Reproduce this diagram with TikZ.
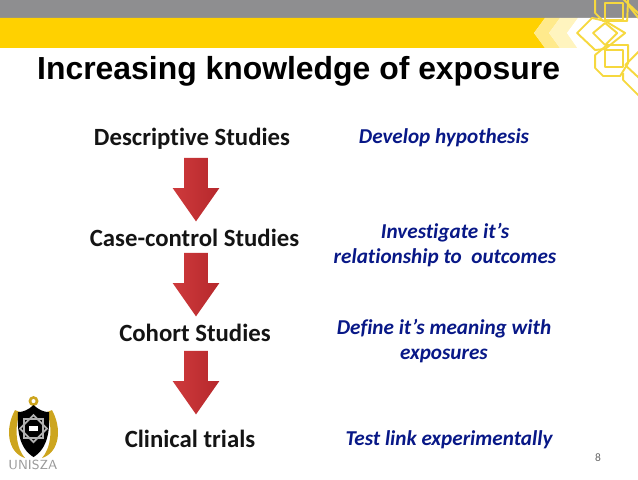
\documentclass[tikz,border=0pt]{standalone}
\usepackage{fontspec}
\setmainfont[Ligatures=NoCommon]{Carlito}
\newfontfamily\titlefont{Liberation Sans}
\usetikzlibrary{shapes.arrows}
\definecolor{bandgray}{RGB}{142,142,144}
\definecolor{bandyellow}{RGB}{255,209,0}
\definecolor{hypblue}{RGB}{8,24,135}
\definecolor{arrowred}{RGB}{182,40,44}
\definecolor{arrowdark}{RGB}{206,58,60}
\definecolor{logogold}{RGB}{205,165,30}
\definecolor{framegold}{RGB}{246,216,62}
\tikzset{
  study/.style={font=\fontsize{14.1pt}{17pt}\selectfont\bfseries, text=black!92},
  aim/.style={font=\fontsize{12.05pt}{14.2pt}\selectfont\bfseries\itshape, text=hypblue, align=center},
  downarrow/.style={shape=single arrow, shape border rotate=270, inner sep=0pt, anchor=tip,
    text width=0.46cm, minimum height=1.27cm, single arrow head extend=0.23cm,
    single arrow tip angle=70, left color=arrowdark, right color=arrowred, draw=none},
  frame/.style={draw=framegold, line width=1.1pt, line join=round},
  px/.style={shift={(0cm,9.58cm)}, x=0.02cm, y=-0.02cm}
}
\begin{document}
\begin{tikzpicture}
    \useasboundingbox (0,0) rectangle (12.76,9.58);
    % Bandas superiores
    \fill[bandgray] (0,9.58) rectangle (12.76,9.22);
    \fill[bandyellow] (0,9.22) -- (10.9,9.22) -- (10.68,8.92) -- (10.9,8.62) -- (0,8.62) -- cycle;
    \fill[bandyellow!45!white] (10.9,9.22) -- (11.2,9.22) -- (10.98,8.92) -- (11.2,8.62) -- (10.9,8.62) -- (10.68,8.92) -- cycle;
    \fill[bandyellow!25!white] (11.2,9.22) -- (11.56,9.22) -- (11.34,8.92) -- (11.56,8.62) -- (11.2,8.62) -- (10.98,8.92) -- cycle;
    \fill[white] (11.56,9.22) -- (12.76,9.22) -- (12.76,8.6) -- (11.56,8.6) -- (11.34,8.92) -- cycle;

    % Marcos de la esquina
    \begin{scope}[px]
      \clip (560,0) rectangle (638,110);
      \draw[frame] (605,3) rectangle (623,20);
      \draw[frame] (595,-2) -- (595,13) -- (603,21) -- (627,21) -- (628,-2);
      \draw[frame] (623,-1) -- (640,15);
      \draw[frame] (628,5) -- (640,20);
      \draw[frame] (577,33) -- (592,18) -- (605,21) -- (625,33) -- (605,49) -- (595,50) -- cycle;
      \draw[frame] (593,33) -- (605,23) -- (617,33) -- (605,45) -- cycle;
      \draw[frame] (605,50) rectangle (623,67);
      \draw[frame] (607,45) -- (628,45) -- (628,63) -- (620,76) -- (603,76) -- (595,68) -- (595,55) -- cycle;
      \draw[frame] (625,65) -- (640,50);
      \draw[frame] (625,65) -- (640,79);
      \draw[frame] (623,73) -- (623,80) -- (640,97);
    \end{scope}

    % Titulo
    \node[font=\titlefont\fontsize{18.15pt}{21pt}\selectfont\bfseries, anchor=west] (title) at (0.62,8.16) {Increasing knowledge of exposure};

    % Estudios
    \node[study] (descriptive) at (3.84,6.8) {Descriptive Studies};
    \node[study] (casecontrol) at (3.89,4.82) {Case-control Studies};
    \node[study] (cohort) at (3.9,2.92) {Cohort Studies};
    \node[study] (clinical) at (3.8,0.8) {Clinical trials};

    % Flechas
    \node[downarrow] (arrowa) at (3.92,5.14) {};
    \node[downarrow] (arrowb) at (3.92,3.24) {};
    \node[downarrow] (arrowc) at (3.92,1.28) {};

    % Objetivos
    \node[aim] (hypothesis) at (8.88,6.83) {Develop hypothesis};
    \node[aim] (relationship) at (8.9,4.67) {Investigate it’s\\relationship to~ outcomes};
    \node[aim] (meaning) at (8.88,2.76) {Define it’s meaning with\\exposures};
    \node[aim] (link) at (8.98,0.79) {Test link experimentally};

    % Numero de pagina
    \node[font=\fontsize{6.5pt}{8pt}\selectfont, text=black!60] (pagenum) at (11.96,0.43) {8};

    % Escudo
    \begin{scope}[px]
      \fill[logogold] (15,410) .. controls (5,428) and (7,452) .. (25,458) .. controls (16,448) and (14,428) .. (20,412) -- cycle;
      \fill[logogold] (52,410) .. controls (62,428) and (60,452) .. (42,458) .. controls (51,448) and (53,428) .. (47,412) -- cycle;
      \fill[logogold] (33.5,401) circle (5);
      \fill[white] (33.5,401) circle (2);
      \fill[black] (33.5,405) .. controls (28,410) and (23,412) .. (18,412) .. controls (17,430) and (19,448) .. (33.5,457) .. controls (48,448) and (50,430) .. (49,412) .. controls (44,412) and (39,410) .. (33.5,405) -- cycle;
      \draw[gray!60, line width=1pt] (24,419) rectangle (43,438);
      \draw[gray!60, line width=1pt] (33.5,415) -- (47,428.5) -- (33.5,442) -- (20,428.5) -- cycle;
      \fill[white] (29,426) rectangle (38,431);
    \end{scope}
    \node[font=\sffamily\fontsize{7.5pt}{8pt}\selectfont, text=gray!80, inner sep=0pt] (unisza) at (0.66,0.28) {UNISZA};
\end{tikzpicture}
\end{document}
